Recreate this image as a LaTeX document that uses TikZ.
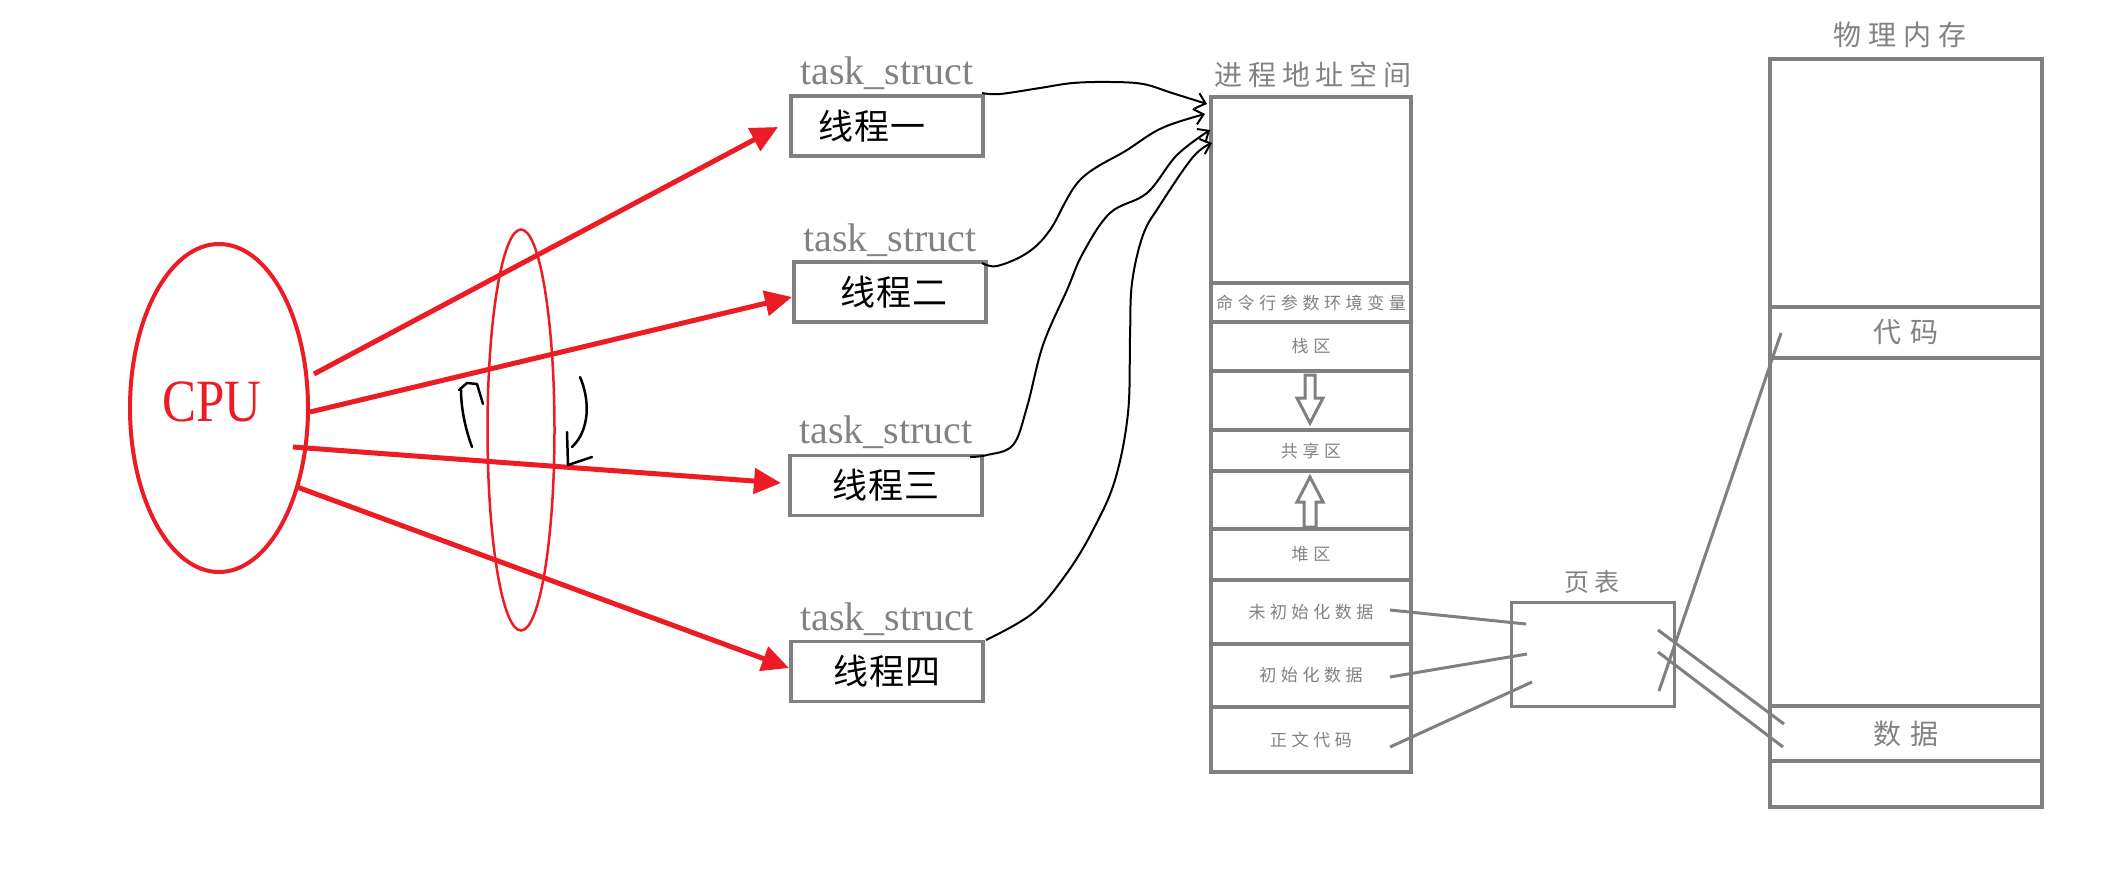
\documentclass[tikz,border=0pt]{standalone}
\usepackage{fontspec}
\setmainfont{Liberation Serif}
\newfontfamily\cjk{Noto Sans CJK SC}
\usetikzlibrary{arrows.meta,shapes.geometric}
\definecolor{cpured}{RGB}{237,28,36}
\definecolor{boxgray}{RGB}{128,128,128}
\definecolor{txtgray}{RGB}{132,130,128}
\begin{document}
\begin{tikzpicture}[x=1pt,y=-1pt,
  redarrow/.style={cpured, line width=5pt, -{Triangle[length=27pt,width=25pt]}},
  taskbox/.style={draw=boxgray, line width=3.5pt, minimum width=192pt, minimum height=60pt, inner sep=0pt, font=\cjk\fontsize{35}{35}\selectfont\addfontfeature{LetterSpace=4}},
  tasklabel/.style={anchor=base, text=txtgray, font=\fontsize{40}{40}\selectfont, inner sep=0pt},
  seg/.style={draw=boxgray, line width=4pt, minimum width=200pt, inner sep=0pt, text=txtgray, font=\cjk\fontsize{17}{17}\selectfont\addfontfeature{LetterSpace=27}},
  pseg/.style={draw=boxgray, line width=4pt, minimum width=272pt, inner sep=0pt, text=txtgray, font=\cjk\fontsize{28}{28}\selectfont\addfontfeature{LetterSpace=32}},
  title/.style={text=txtgray, inner sep=0pt},
  blockarrow/.style={draw=boxgray, line width=3pt, fill=white},
  graylink/.style={draw=boxgray, line width=3pt},
  handarrow/.style={black, line width=2pt, -{Straight Barb[length=9pt,width=16pt]}},
  handmark/.style={black, line width=2.5pt, line cap=round, line join=round}
]
\useasboundingbox[fill=white] (0,0) rectangle (2116,881);

% CPU and ring
\node[draw=cpured, line width=4pt, ellipse, minimum width=178pt, minimum height=328pt, inner sep=0pt] (cpu) at (219,408) {};
\node[text=cpured, font=\fontsize{60}{60}\selectfont, inner sep=0pt] (cputxt) at (212,402) {\scalebox{0.85}[1]{CPU}};
\node[draw=cpured, line width=2.5pt, ellipse, minimum width=67pt, minimum height=401pt, inner sep=0pt] (ring) at (521,430) {};

% thread boxes
\node[taskbox] (t1) at (887,126) {\hspace*{-30pt}线程一};
\node[taskbox] (t2) at (890,292) {\hspace*{8pt}线程二};
\node[taskbox] (t3) at (886,485.5) {线程三};
\node[taskbox] (t4) at (887,671.5) {线程四};
\node[tasklabel] (l1) at (887,84) {task\_struct};
\node[tasklabel] (l2) at (890,251) {task\_struct};
\node[tasklabel] (l3) at (886,443) {task\_struct};
\node[tasklabel] (l4) at (887,630) {task\_struct};

% red arrows
\coordinate (c1) at (314,374); \coordinate (e1) at (778,127);
\coordinate (c2) at (310,412); \coordinate (e2) at (792,297);
\coordinate (c3) at (293,447); \coordinate (e3) at (781,483);
\coordinate (c4) at (297,487); \coordinate (e4) at (789,668);
\draw[redarrow] (c1) -- (e1);
\draw[redarrow] (c2) -- (e2);
\draw[redarrow] (c3) -- (e3);
\draw[redarrow] (c4) -- (e4);

% hand marks on the ring
\draw[handmark] (472,447) .. controls (464,425) and (461,405) .. (461,390);
\draw[handmark] (459,390) -- (467,383) -- (477,384) -- (483,404);
\draw[handmark] (580,377) .. controls (590,400) and (590,430) .. (572,447);
\draw[handmark] (567,432) -- (568,465) -- (592,457);

% process address space
\node[title, font=\cjk\fontsize{28}{28}\selectfont\addfontfeature{LetterSpace=21}] (astitle) at (1313,75) {进程地址空间};
\node[seg, minimum height=186pt] (s0) at (1311,190) {};
\node[seg, minimum height=39pt] (s1) at (1311,302.5) {命令行参数环境变量};
\node[seg, minimum height=49pt] (s2) at (1311,346.5) {栈区};
\node[seg, minimum height=59pt] (s3) at (1311,400.5) {};
\node[seg, minimum height=41pt] (s4) at (1311,450.5) {共享区};
\node[seg, minimum height=58pt] (s5) at (1311,500) {};
\node[seg, minimum height=51pt] (s6) at (1311,554.5) {堆区};
\node[seg, minimum height=64pt] (s7) at (1311,612) {未初始化数据};
\node[seg, minimum height=63pt] (s8) at (1311,675.5) {初始化数据};
\node[seg, minimum height=65pt] (s9) at (1311,739.5) {正文代码};
\draw[blockarrow] (1305,375) -- (1315,375) -- (1315,398) -- (1323,398) -- (1310,423) -- (1297,398) -- (1305,398) -- cycle;
\draw[blockarrow] (1310,477) -- (1323,502) -- (1316,502) -- (1316,527) -- (1304,527) -- (1304,502) -- (1297,502) -- cycle;

% hand-drawn arrows from task_structs to the address space
\coordinate (h1) at (982,93);  \coordinate (a1) at (1207,104);
\coordinate (h2) at (982,263); \coordinate (a2) at (1205,114);
\coordinate (h3) at (970,457); \coordinate (a3) at (1210,130);
\coordinate (h4) at (986,640); \coordinate (a4) at (1212,143);
\draw[handarrow] plot[smooth, tension=0.6] coordinates {(h1) (1000,94) (1040,88) (1073,83) (1110,82) (1143,84) (1172,93) (a1)};
\draw[handarrow] plot[smooth, tension=0.6] coordinates {(h2) (997,266) (1027,253) (1050,230) (1080,180) (1127,150) (1162,128) (a2)};
\draw[handarrow] plot[smooth, tension=0.6] coordinates {(h3) (987,455) (1013,445) (1027,407) (1043,345) (1067,290) (1083,253) (1110,213) (1147,193) (1177,155) (a3)};
\draw[handarrow] plot[smooth, tension=0.6] coordinates {(h4) (1033,613) (1067,573) (1093,530) (1115,480) (1128,413) (1130,337) (1132,283) (1143,235) (1160,205) (1193,157) (a4)};

% page table
\node[draw=boxgray, line width=3pt, minimum width=163pt, minimum height=104pt, inner sep=0pt] (pt) at (1592.5,654) {};
\node[title, font=\cjk\fontsize{25}{25}\selectfont\addfontfeature{LetterSpace=20}] (pttitle) at (1592,582) {页表};

% physical memory
\node[title, font=\cjk\fontsize{28}{28}\selectfont\addfontfeature{LetterSpace=25}] (pmtitle) at (1900,35) {物理内存};
\node[pseg, minimum height=248pt] (p0) at (1906,183) {};
\node[pseg, minimum height=51pt] (p1) at (1906,332.5) {代码};
\node[pseg, minimum height=348pt] (p2) at (1906,532) {};
\node[pseg, minimum height=55pt] (p3) at (1906,733.5) {数据};
\node[pseg, minimum height=46pt] (p4) at (1906,784) {};

% mapping lines
\coordinate (u1) at (1390,610); \coordinate (v1) at (1526,624);
\coordinate (u2) at (1390,677); \coordinate (v2) at (1527,654);
\coordinate (u3) at (1390,747); \coordinate (v3) at (1532,682);
\draw[graylink] (u1) -- (v1);
\draw[graylink] (u2) -- (v2);
\draw[graylink] (u3) -- (v3);
\coordinate (w1) at (1659,691); \coordinate (x1) at (1781,333);
\coordinate (w2) at (1658,630); \coordinate (x2) at (1784,724);
\coordinate (w3) at (1658,652); \coordinate (x3) at (1783,747);
\draw[graylink] (w1) -- (x1);
\draw[graylink] (w2) -- (x2);
\draw[graylink] (w3) -- (x3);
\end{tikzpicture}
\end{document}
